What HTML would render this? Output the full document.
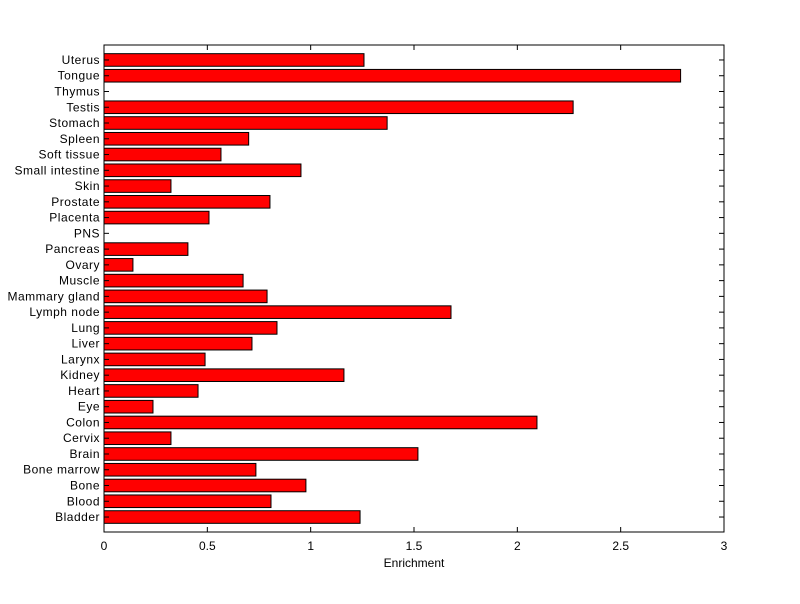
<!DOCTYPE html>
<html><head><meta charset="utf-8"><style>
body{margin:0;background:#fff;}
svg text{font-family:"Liberation Sans",sans-serif;font-size:12px;fill:#000;}
svg text.yl{letter-spacing:0.5px;}
</style></head><body>
<svg id="chart" width="800" height="599">
<rect x="0" y="0" width="800" height="599" fill="#fff"/>
<g id="bars"></g>
<g id="axes"></g>
</svg>
<script>
const categories=["Bladder","Blood","Bone","Bone marrow","Brain","Cervix","Colon","Eye","Heart","Kidney","Larynx","Liver","Lung","Lymph node","Mammary gland","Muscle","Ovary","Pancreas","PNS","Placenta","Prostate","Skin","Small intestine","Soft tissue","Spleen","Stomach","Testis","Thymus","Tongue","Uterus"];
const values=[1.239,0.808,0.977,0.735,1.519,0.324,2.095,0.237,0.455,1.161,0.489,0.716,0.837,1.679,0.789,0.673,0.14,0.406,0,0.508,0.803,0.324,0.953,0.566,0.70,1.37,2.27,0,2.79,1.258];
const xTicks=[0,0.5,1,1.5,2,2.5,3];
const xTickLabels=["0","0.5","1","1.5","2","2.5","3"];
const L=104,R=724,T=45,B=532,xMax=3;
const ns="http://www.w3.org/2000/svg";
const x=v=>L+(v/xMax)*(R-L);
const n=categories.length;
const step=(B-T)/(n+0.9);
const y=i=>B-step*(i+0.95);
function mk(tag,attrs,parent){const e=document.createElementNS(ns,tag);for(const k in attrs)e.setAttribute(k,attrs[k]);parent.appendChild(e);return e;}
const bars=document.getElementById('bars'),axes=document.getElementById('axes');
categories.forEach((c,i)=>{
  const cy=y(i),h=step*0.8;
  if(values[i]>0){
    const r=mk('rect',{x:x(0),y:cy-h/2,width:x(values[i])-x(0),height:h,fill:'#ff0000',stroke:'#000','stroke-width':1},bars);
    
    
  }
  const t=mk('text',{x:L-4,y:cy+4,'text-anchor':'end','class':'yl'},axes);t.textContent=c;
  
  
  mk('line',{x1:L,x2:L+5,y1:cy,y2:cy,stroke:'#000'},axes);
  mk('line',{x1:R,x2:R-5,y1:cy,y2:cy,stroke:'#000'},axes);
});
xTicks.forEach((v,i)=>{
  const px=x(v);
  mk('line',{x1:px,x2:px,y1:B,y2:B-5,stroke:'#000'},axes);
  mk('line',{x1:px,x2:px,y1:T,y2:T+5,stroke:'#000'},axes);
  const t=mk('text',{x:px,y:B+18,'text-anchor':'middle'},axes);t.textContent=xTickLabels[i];
  
  
});
const box=mk('rect',{x:L,y:T,width:R-L,height:B-T,fill:'none',stroke:'#000'},axes);


const xt=mk('text',{x:(L+R)/2,y:567,'text-anchor':'middle'},axes);xt.textContent="Enrichment";


</script>
</body></html>
